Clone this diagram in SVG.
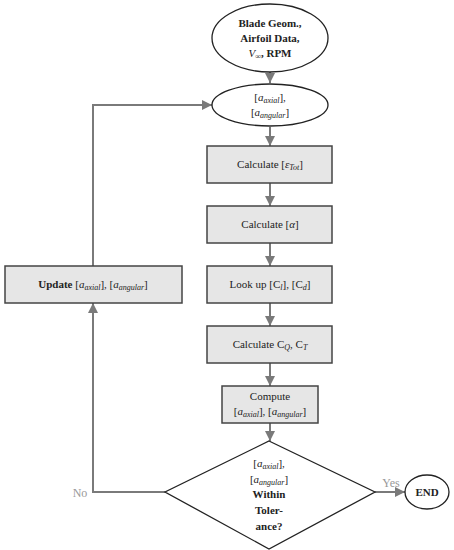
<svg xmlns="http://www.w3.org/2000/svg" width="454" height="550" viewBox="0 0 454 550">
<defs>
<marker id="ah" viewBox="0 0 10 10" refX="10" refY="5" markerWidth="5" markerHeight="5" orient="auto" markerUnits="strokeWidth">
<path d="M0,0 L10,5 L0,10 z" fill="#7a7a7a"/>
</marker>
</defs>
<style>
text{font-family:"Liberation Serif","DejaVu Serif",serif;font-size:11px;fill:#222;text-anchor:middle}
.b{font-weight:bold}
.i{font-style:italic}
.sub{font-size:8px;font-style:italic}
.box{fill:#e6e6e6;stroke:#444;stroke-width:1.5}
.ell{fill:#fff;stroke:#222;stroke-width:1.3}
.con{fill:none;stroke:#7a7a7a;stroke-width:2;marker-end:url(#ah)}
.lbl{fill:#999;font-size:12px}
</style>
<rect width="454" height="550" fill="#fff"/>
<g id="connectors">
<path class="con" d="M270,72 L270,83"/>
<path class="con" d="M270,127 L270,146"/>
<path class="con" d="M270,183 L270,206"/>
<path class="con" d="M270,243 L270,266"/>
<path class="con" d="M270,303 L270,326"/>
<path class="con" d="M270,363 L270,386"/>
<path class="con" d="M270,423 L270,441"/>
<path class="con" d="M375,492 L405,492"/>
<path class="con" d="M165,492 L93,492 L93,303"/>
<path class="con" d="M93,266 L93,105 L212,105"/>
<text class="lbl" x="391" y="487">Yes</text>
<text class="lbl" x="80" y="497">No</text>
</g>
<g id="inputs">
<ellipse class="ell" cx="270" cy="38" rx="58" ry="34"/>
<text class="b" x="270" y="27">Blade Geom.,</text>
<text class="b" x="270" y="42">Airfoil Data,</text>
<text x="270" y="57"><tspan class="i">V</tspan><tspan class="sub" dy="2">∞</tspan><tspan class="b" dy="-2">, RPM</tspan></text>
</g>
<g id="induction">
<ellipse class="ell" cx="270" cy="105" rx="58" ry="21"/>
<text x="270" y="101">[<tspan class="i">a</tspan><tspan class="sub" dy="2">axial</tspan><tspan dy="-2">],</tspan></text>
<text x="270" y="116">[<tspan class="i">a</tspan><tspan class="sub" dy="2">angular</tspan><tspan dy="-2">]</tspan></text>
</g>
<g id="calc-eps">
<rect class="box" x="207" y="146" width="125" height="37"/>
<text x="270" y="168">Calculate [<tspan class="i">ε</tspan><tspan class="sub" dy="2">Tot</tspan><tspan dy="-2">]</tspan></text>
</g>
<g id="calc-alpha">
<rect class="box" x="207" y="206" width="125" height="37"/>
<text x="270" y="228">Calculate [<tspan class="i">α</tspan>]</text>
</g>
<g id="lookup">
<rect class="box" x="207" y="266" width="125" height="37"/>
<text x="270" y="288">Look up [C<tspan class="sub" dy="2">l</tspan><tspan dy="-2">], [C</tspan><tspan class="sub" dy="2">d</tspan><tspan dy="-2">]</tspan></text>
</g>
<g id="calc-cq">
<rect class="box" x="207" y="326" width="125" height="37"/>
<text x="270" y="348">Calculate C<tspan class="sub" dy="2">Q</tspan><tspan dy="-2">, C</tspan><tspan class="sub" dy="2">T</tspan></text>
</g>
<g id="compute">
<rect class="box" x="222" y="386" width="96" height="37"/>
<text x="270" y="400">Compute</text>
<text x="270" y="415">[<tspan class="i">a</tspan><tspan class="sub" dy="2">axial</tspan><tspan dy="-2">], [</tspan><tspan class="i">a</tspan><tspan class="sub" dy="2">angular</tspan><tspan dy="-2">]</tspan></text>
</g>
<g id="update">
<rect class="box" x="5" y="266" width="177" height="37"/>
<text x="93" y="288"><tspan class="b">Update</tspan> [<tspan class="i">a</tspan><tspan class="sub" dy="2">axial</tspan><tspan dy="-2">], [</tspan><tspan class="i">a</tspan><tspan class="sub" dy="2">angular</tspan><tspan dy="-2">]</tspan></text>
</g>
<g id="decision">
<polygon points="269,441 375,492 269,549 165,492" fill="#fff" stroke="#222" stroke-width="1.3"/>
<text x="269" y="467">[<tspan class="i">a</tspan><tspan class="sub" dy="2">axial</tspan><tspan dy="-2">],</tspan></text>
<text x="269" y="483">[<tspan class="i">a</tspan><tspan class="sub" dy="2">angular</tspan><tspan dy="-2">]</tspan></text>
<text class="b" x="269" y="498">Within</text>
<text class="b" x="269" y="514">Toler-</text>
<text class="b" x="269" y="530">ance?</text>
</g>
<g id="end">
<ellipse class="ell" cx="427" cy="492" rx="22" ry="17"/>
<text class="b" x="427" y="496">END</text>
</g>
</svg>
